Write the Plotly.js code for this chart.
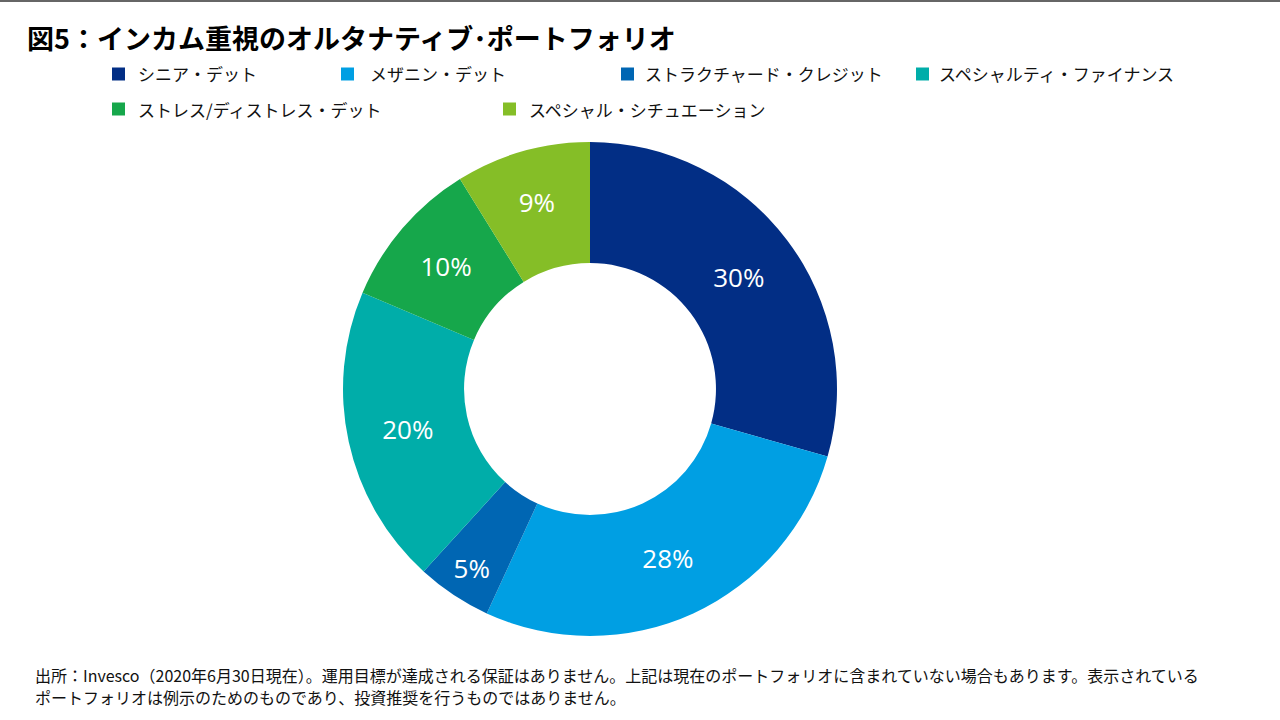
<!DOCTYPE html>
<html>
<head>
<meta charset="utf-8">
<script src="https://cdn.plot.ly/plotly-3.0.1.min.js"></script>
<style>
  html, body { margin: 0; padding: 0; background: #fff; }
  #chart { width: 1280px; height: 720px; }
</style>
</head>
<body>
<div id="chart"></div>
<script>
// ---- data ----
const categories = [
  'シニア・デット',
  'メザニン・デット',
  'ストラクチャード・クレジット',
  'スペシャルティ・ファイナンス',
  'ストレス/ディストレス・デット',
  'スペシャル・シチュエーション'
];
const shares = [30, 28, 5, 20, 10, 9];
const sliceColors = ['#022E85', '#009FE3', '#0066B3', '#00ADA9', '#16A74B', '#85BE27'];
const titleText = '図5：インカム重視のオルタナティブ･ポートフォリオ';
const noteLines = [
  '出所：Invesco（2020年6月30日現在）。運用目標が達成される保証はありません。上記は現在のポートフォリオに含まれていない場合もあります。表示されている',
  'ポートフォリオは例示のためのものであり、投資推奨を行うものではありません。'
];

// ---- layout helpers (pixel positions -> paper) ----
const W = 1280, H = 720;
const px = x => x / W;
const py = y => 1 - y / H;

// legend item anchor positions in pixels (square left x, row centre y)
const legendPos = [
  [112, 74], [341, 74], [621, 74], [916, 74],
  [112, 109], [503, 109]
];
const textOffset = [24, 27, 22, 21, 24, 24];

const shapes = [{
  type: 'line', xref: 'paper', yref: 'paper',
  x0: 0, x1: 1, y0: py(1), y1: py(1),
  line: { color: '#333333', width: 1.5 }
}];
const annotations = [];

categories.forEach((c, i) => {
  const [lx, ly] = legendPos[i];
  shapes.push({
    type: 'rect', xref: 'paper', yref: 'paper',
    x0: px(lx), x1: px(lx + 13), y0: py(ly + 6.5), y1: py(ly - 6.5),
    fillcolor: sliceColors[i], line: { width: 0 }
  });
  annotations.push({
    xref: 'paper', yref: 'paper',
    x: px(lx + textOffset[i]), y: py(ly),
    xanchor: 'left', yanchor: 'middle',
    text: c, showarrow: false,
    font: { family: 'Noto Sans CJK JP', size: 17, color: '#111111' }
  });
});

annotations.push({
  xref: 'paper', yref: 'paper', x: px(25), y: py(37),
  xanchor: 'left', yanchor: 'middle', showarrow: false,
  text: '<b>' + titleText + '</b>',
  font: { family: 'Noto Sans CJK JP', size: 27, color: '#000000' }
});

noteLines.forEach((t, i) => {
  annotations.push({
    xref: 'paper', yref: 'paper', x: px(33), y: py(675 + i * 22),
    xanchor: 'left', yanchor: 'middle', showarrow: false,
    text: t,
    font: { family: 'Noto Sans CJK JP', size: 16, color: '#111111' }
  });
});

const cx = 590, cy = 389, r = 247;

const trace = {
  type: 'pie',
  labels: categories,
  values: shares,
  sort: false,
  direction: 'clockwise',
  rotation: 0,
  hole: 0.51,
  marker: { colors: sliceColors, line: { width: 0 } },
  texttemplate: '%{value}%',
  textposition: 'inside',
  insidetextorientation: 'horizontal',
  textfont: { family: 'Open Sans', size: 26, color: '#ffffff' },
  domain: { x: [px(cx - r), px(cx + r)], y: [py(cy + r), py(cy - r)] },
  showlegend: false,
  hoverinfo: 'label+value'
};

const layout = {
  width: W, height: H,
  margin: { l: 0, r: 0, t: 0, b: 0 },
  paper_bgcolor: '#ffffff',
  showlegend: false,
  shapes: shapes,
  annotations: annotations,
  font: { family: 'Noto Sans CJK JP' }
};

Plotly.newPlot('chart', [trace], layout, { displayModeBar: false, responsive: false });
</script>
</body>
</html>
